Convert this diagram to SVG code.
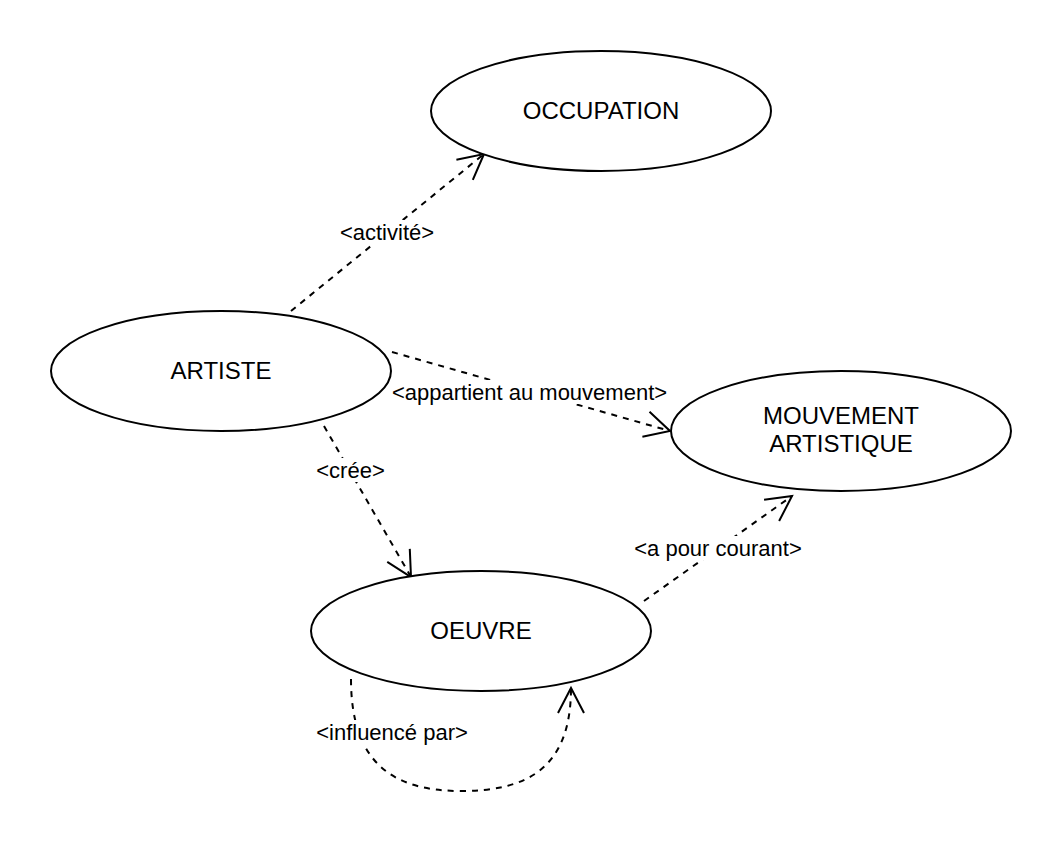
<svg xmlns="http://www.w3.org/2000/svg" width="1062" height="842" viewBox="0 0 1062 842">
<style>
.node ellipse{fill:#fff;stroke:#000;stroke-width:2}
.node text{font-family:"Liberation Sans",Arial,sans-serif;font-size:24px;text-anchor:middle;fill:#000}
.edge{fill:none;stroke:#000;stroke-width:2;stroke-dasharray:6 6;marker-end:url(#open)}
.head{fill:none;stroke:#000;stroke-width:2;stroke-dasharray:none}
.lbl rect{fill:#fff}
.lbl text{font-family:"Liberation Sans",Arial,sans-serif;font-size:22px;text-anchor:middle;fill:#000}
</style>
<defs>
<marker id="open" markerUnits="userSpaceOnUse" markerWidth="60" markerHeight="60" viewBox="-30 -30 60 60" refX="0" refY="0" orient="auto" overflow="visible">
<path class="head" d="M-25,-13 L0,0 L-25,13"/>
</marker>
</defs>
<rect width="1062" height="842" fill="#fff"/>
<g id="connectors">
<path class="edge" d="M291,311 L484,154"/>
<path class="edge" d="M392,352 L670,431"/>
<path class="edge" d="M324,426 L411,577"/>
<path class="edge" d="M644,601 L792,496"/>
<path class="edge" d="M351,679 C351,765 395,791 461,791 C525,791 571,770 571,688"/>
<g class="lbl">
<rect x="340" y="220" width="94" height="24"/><text x="387" y="240">&lt;activité&gt;</text>
<rect x="392" y="380" width="275" height="24"/><text x="529.5" y="400">&lt;appartient au mouvement&gt;</text>
<rect x="316" y="458" width="69" height="24"/><text x="350.5" y="478">&lt;crée&gt;</text>
<rect x="634" y="536" width="168" height="24"/><text x="718" y="556">&lt;a pour courant&gt;</text>
<rect x="316" y="720" width="152" height="24"/><text x="392" y="740">&lt;influencé par&gt;</text>
</g>
</g>
<g id="occupation" class="node"><ellipse cx="601" cy="111" rx="170" ry="60"/><text x="601" y="119">OCCUPATION</text></g>
<g id="artiste" class="node"><ellipse cx="221" cy="371" rx="170" ry="60"/><text x="221" y="379">ARTISTE</text></g>
<g id="mouvement" class="node"><ellipse cx="841" cy="431" rx="170" ry="60"/><text x="841" y="424">MOUVEMENT</text><text x="841" y="452">ARTISTIQUE</text></g>
<g id="oeuvre" class="node"><ellipse cx="481" cy="631" rx="170" ry="60"/><text x="481" y="639">OEUVRE</text></g>
</svg>
